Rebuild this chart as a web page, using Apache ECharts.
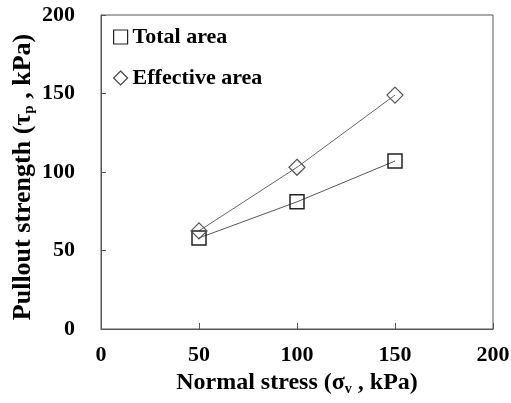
<!DOCTYPE html>
<html>
<head>
<meta charset="utf-8">
<script src="https://cdn.jsdelivr.net/npm/echarts@6/dist/echarts.min.js"></script>
<style>
  html, body { margin: 0; padding: 0; background: #fff; }
  #chart { width: 511px; height: 403px; }
</style>
</head>
<body>
<div id="chart"></div>
<script>
// normal stress (kPa)
var stress = [50, 100, 150]
// pullout strength (kPa)
var totalArea = [58, 81, 107]
var effectiveArea = [62.5, 103, 149]
var xTicks = [0, 50, 100, 150, 200]
var yTicks = [0, 50, 100, 150, 200]

var font = 'Liberation Serif'
var subStyle = { fontSize: 14, fontWeight: 'bold', fontFamily: font, color: '#000', verticalAlign: 'bottom', padding: [12, 0, 0, 0] }

function pairs (xs, ys) {
  return xs.map(function (x, i) { return [x, ys[i]] })
}

var myChart = echarts.init(document.getElementById('chart'))

var option = {
  animation: false,
  textStyle: { fontFamily: font },
  grid: {
    left: 101,
    right: 18,
    top: 15,
    bottom: 74,
    outerBoundsMode: 'none',
    show: true,
    borderColor: '#555',
    borderWidth: 1
  },
  legend: {
    orient: 'vertical',
    left: 108,
    top: 21,
    itemWidth: 14,
    itemHeight: 14,
    itemGap: 19,
    textStyle: { fontSize: 22, fontWeight: 'bold', fontFamily: font, color: '#000' },
    data: [
      { name: 'Total area', icon: 'rect', itemStyle: { color: 'transparent', borderColor: '#222', borderWidth: 1.2 } },
      { name: 'Effective area', icon: 'diamond', itemStyle: { color: 'transparent', borderColor: '#444', borderWidth: 1.2 } }
    ]
  },
  xAxis: {
    type: 'value',
    min: xTicks[0],
    max: xTicks[xTicks.length - 1],
    interval: 50,
    name: 'Normal stress (σ{sub|v} , kPa)',
    nameLocation: 'middle',
    nameGap: 41,
    nameTextStyle: {
      fontSize: 24,
      fontWeight: 'bold',
      fontFamily: font,
      color: '#000',
      rich: { sub: subStyle }
    },
    axisLine: { lineStyle: { color: '#555' } },
    axisTick: { inside: true, length: 6, lineStyle: { color: '#555' } },
    axisLabel: { fontSize: 22, fontWeight: 'bold', fontFamily: font, color: '#000', margin: 15 },
    splitLine: { show: false }
  },
  yAxis: {
    type: 'value',
    min: yTicks[0],
    max: yTicks[yTicks.length - 1],
    interval: 50,
    name: 'Pullout strength (τ{sub|p} , kPa)',
    nameLocation: 'middle',
    nameGap: 64,
    nameMoveOverlap: false,
    nameTextStyle: {
      fontSize: 26,
      fontWeight: 'bold',
      fontFamily: font,
      color: '#000',
      padding: [0, 10, 0, 0],
      rich: { sub: { fontSize: 15, fontWeight: 'bold', fontFamily: font, color: '#000', verticalAlign: 'bottom', padding: [13, 0, 0, 0] } }
    },
    axisLine: { lineStyle: { color: '#555' } },
    axisTick: { inside: true, length: 5, lineStyle: { color: '#555' } },
    axisLabel: { fontSize: 22, fontWeight: 'bold', fontFamily: font, color: '#000', margin: 26 },
    splitLine: { show: false }
  },
  series: [
    {
      name: 'Total area',
      type: 'line',
      data: pairs(stress, totalArea),
      symbol: 'rect',
      symbolSize: 14,
      itemStyle: { color: 'transparent', borderColor: '#222', borderWidth: 1.5 },
      lineStyle: { color: '#555', width: 1 }
    },
    {
      name: 'Effective area',
      type: 'line',
      data: pairs(stress, effectiveArea),
      symbol: 'diamond',
      symbolSize: 16,
      itemStyle: { color: 'transparent', borderColor: '#555', borderWidth: 1.2 },
      lineStyle: { color: '#666', width: 1 }
    }
  ]
}

myChart.setOption(option)
</script>
</body>
</html>
